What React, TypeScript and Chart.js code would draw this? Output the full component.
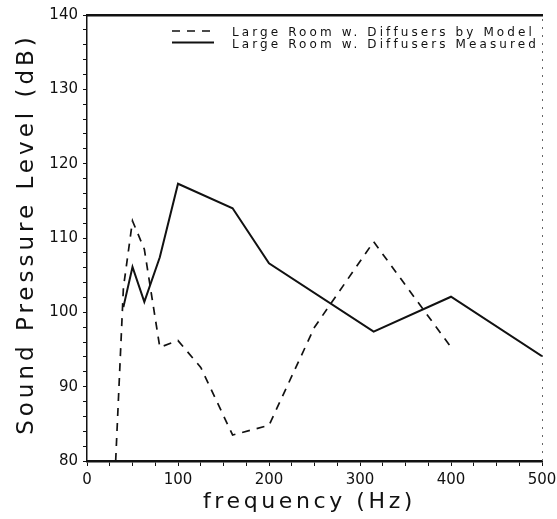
import { useEffect, useRef } from 'react';
import { Chart, registerables } from 'chart.js';

Chart.register(...registerables);

// ---- data ----
const modelLabel = 'Large Room w. Diffusers by Model';
const modelFreqs = [31.5, 40, 50, 63, 80, 100, 125, 160, 200, 250, 315, 400];
const modelLevels = [80, 103.3, 112.3, 108.5, 95.3, 96.2, 92.6, 83.5, 84.8, 98, 109.5, 95.3];

const measuredLabel = 'Large Room w. Diffusers Measured';
const measuredFreqs = [40, 50, 63, 80, 100, 160, 200, 315, 400, 500];
const measuredLevels = [100.7, 106.1, 101.4, 107.4, 117.3, 114.0, 106.6, 97.4, 102.1, 94.1];

const xTickLabels = [0, 100, 200, 300, 400, 500];
const yTickLabels = [80, 90, 100, 110, 120, 130, 140];

const xTitle = 'frequency (Hz)';
const yTitle = 'Sound Pressure Level (dB)';

const INK = '#111';
const FONT = '"DejaVu Sans", "Liberation Sans", sans-serif';

export default function App() {
  const ref = useRef<HTMLCanvasElement>(null);

  useEffect(() => {
    const canvas = ref.current;
    if (!canvas) return;

    const overlay = {
      id: 'overlay',
      afterDraw(chart: any) {
        const c: any = chart.ctx;
        const area = chart.chartArea;
        c.save();
        c.fillStyle = INK;

        // faint dotted right frame
        c.save();
        c.strokeStyle = '#666';
        c.lineWidth = 1;
        c.setLineDash([2, 6]);
        c.beginPath();
        c.moveTo(area.right + 0.5, area.top + 4);
        c.lineTo(area.right + 0.5, area.bottom);
        c.stroke();
        c.restore();

        // y axis title (rotated)
        c.save();
        c.font = `23px ${FONT}`;
        c.letterSpacing = '4px';
        c.textAlign = 'center';
        c.textBaseline = 'alphabetic';
        c.translate(33, (area.top + area.bottom) / 2 - 4);
        c.rotate(-Math.PI / 2);
        c.fillText(yTitle, 0, 0);
        c.restore();

        // x axis title
        c.save();
        c.font = `22px ${FONT}`;
        c.letterSpacing = '3.6px';
        c.textAlign = 'center';
        c.textBaseline = 'alphabetic';
        c.fillText(xTitle, (area.left + area.right) / 2 - 5, 508);
        c.restore();

        // legend inside plot, top-right
        const rows = [
          { ds: chart.data.datasets[0], y: 33 },
          { ds: chart.data.datasets[1], y: 44.5 },
        ];
        rows.forEach(({ ds, y }) => {
          c.save();
          c.strokeStyle = ds.borderColor;
          c.lineWidth = ds.borderWidth;
          c.setLineDash(ds.borderDash || []);
          c.beginPath();
          c.moveTo(area.left + 85, y - 2);
          c.lineTo(area.left + 127, y - 2);
          c.stroke();
          c.restore();

          c.save();
          c.font = `12px ${FONT}`;
          c.letterSpacing = '3.1px';
          c.textAlign = 'left';
          c.textBaseline = 'middle';
          c.fillStyle = INK;
          c.fillText(ds.label, area.left + 145, y);
          c.restore();
        });

        c.restore();
      },
    };

    const chart = new Chart(canvas, {
      type: 'line',
      data: {
        datasets: [
          {
            label: modelLabel,
            data: modelFreqs.map((f, i) => ({ x: f, y: modelLevels[i] })),
            borderColor: INK,
            borderWidth: 1.7,
            borderDash: [8, 7],
            pointRadius: 0,
            tension: 0,
            fill: false,
          },
          {
            label: measuredLabel,
            data: measuredFreqs.map((f, i) => ({ x: f, y: measuredLevels[i] })),
            borderColor: INK,
            borderWidth: 2,
            pointRadius: 0,
            tension: 0,
            fill: false,
          },
        ],
      },
      options: {
        responsive: false,
        animation: false,
        devicePixelRatio: 1,
        layout: { padding: { left: 0, top: 0, bottom: 0, right: 15 }, autoPadding: false },
        plugins: {
          legend: { display: false },
          tooltip: { enabled: false },
        },
        scales: {
          x: {
            type: 'linear',
            position: 'bottom',
            min: 0,
            max: 500,
            ticks: {
              stepSize: 25,
              autoSkip: false,
              maxRotation: 0,
              color: INK,
              padding: 5,
              font: { family: FONT, size: 15 },
              callback: (v: any) => (xTickLabels.includes(Number(v)) ? String(v) : ''),
            },
            grid: { display: true, drawOnChartArea: false, drawTicks: true, tickLength: 5, color: INK, lineWidth: 1 },
            border: { display: true, color: INK, width: 2.5 },
            afterFit: (s: any) => { s.height = 58; s.paddingLeft = 0; s.paddingRight = 0; },
          },
          xTop: {
            type: 'linear',
            position: 'top',
            display: true,
            ticks: { display: false },
            grid: { display: false, drawTicks: false },
            border: { display: true, color: INK, width: 2.5 },
            afterFit: (s: any) => { s.height = 15; s.paddingLeft = 0; s.paddingRight = 0; },
          },
          y: {
            type: 'linear',
            position: 'left',
            min: 80,
            max: 140,
            ticks: {
              stepSize: 2,
              autoSkip: false,
              color: INK,
              padding: 5,
              font: { family: FONT, size: 15 },
              callback: (v: any) => (yTickLabels.includes(Number(v)) ? String(v) : ''),
            },
            grid: { display: true, drawOnChartArea: false, drawTicks: true, tickLength: 4, color: INK, lineWidth: 1 },
            border: { display: true, color: INK, width: 1.5 },
            afterFit: (s: any) => { s.width = 87; s.paddingTop = 0; s.paddingBottom = 0; },
          },
        },
      },
      plugins: [overlay],
    } as any);

    return () => chart.destroy();
  }, []);

  return (
    <div style={{ position: 'fixed', left: 0, top: 0, width: 557, height: 519, background: '#fff' }}>
      <canvas ref={ref} width={557} height={519} />
    </div>
  );
}
